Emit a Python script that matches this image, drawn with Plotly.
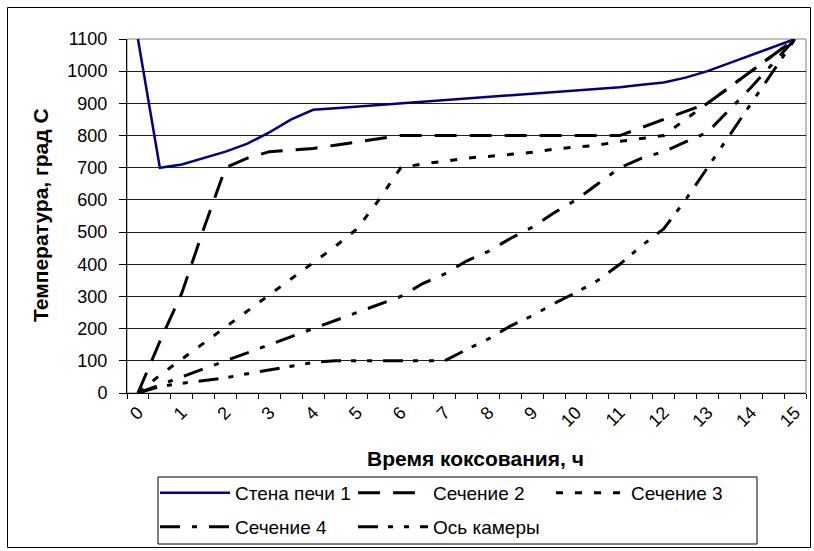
import plotly.graph_objects as go

# ---- data ----
hours = [0, 0.5, 1, 1.5, 2, 2.5, 3, 3.5, 4, 4.5, 5, 5.5, 6, 6.5, 7, 7.5,
         8, 8.5, 9, 9.5, 10, 10.5, 11, 11.5, 12, 12.5, 13, 13.5, 14, 14.5, 15]

wall_1 = [1100, 700, 710, 730, 750, 775, 810, 850, 880, 885, 890, 895, 900, 905, 910, 915,
          920, 925, 930, 935, 940, 945, 950, 958, 965, 980, 1000, 1025, 1050, 1075, 1100]
section_2 = [0, 160, 310, 510, 700, 730, 750, 755, 760, 770, 780, 790, 800, 800, 800, 800,
             800, 800, 800, 800, 800, 800, 800, 825, 850, 875, 900, 950, 1000, 1050, 1100]
section_3 = [0, 55, 105, 155, 205, 255, 305, 355, 405, 455, 510, 600, 700, 712, 720, 730,
             735, 742, 748, 758, 765, 770, 782, 792, 800, 850, 900, 950, 1000, 1050, 1100]
section_4 = [0, 25, 50, 75, 100, 125, 150, 175, 200, 225, 250, 275, 300, 340, 370, 410,
             440, 480, 515, 560, 600, 650, 700, 730, 750, 780, 810, 880, 950, 1025, 1100]
chamber_axis = [0, 20, 30, 38, 47, 60, 72, 83, 95, 100, 100, 100, 100, 100, 100, 135,
                168, 208, 240, 278, 312, 350, 400, 458, 510, 600, 700, 800, 900, 1000, 1100]

series_names = ["Стена печи 1", "Сечение 2", "Сечение 3", "Сечение 4", "Ось камеры"]
tick_hours = list(range(16))
tick_labels = [str(h) for h in tick_hours]
y_ticks = list(range(0, 1101, 100))

FONT = "Liberation Sans, Arial, sans-serif"

# ---- figure ----
fig = go.Figure()
styles = [
    dict(color="#000080", width=2.5, dash="solid"),
    dict(color="black", width=3, dash="22px,13px"),
    dict(color="black", width=3, dash="7px,12px"),
    dict(color="black", width=3, dash="20px,12px,5px,12px"),
    dict(color="black", width=3, dash="20px,10px,5px,11px,5px,11px"),
]
all_series = [wall_1, section_2, section_3, section_4, chamber_axis]
legends = ["legend", "legend", "legend", "legend2", "legend2"]
for name, vals, st, lg in zip(series_names, all_series, styles, legends):
    fig.add_trace(go.Scatter(x=hours, y=vals, mode="lines", name=name,
                             line=st, legend=lg))

L, R, T, B = 127, 8, 39, 158
W, H = 814, 551
pw, ph = W - L - R, H - T - B


def px(x):
    return (x - L) / pw


def py(y):
    return (H - B - y) / ph


legend_common = dict(orientation="h", xanchor="left", yanchor="top",
                     entrywidth=113, entrywidthmode="pixels", itemwidth=70,
                     font=dict(family=FONT, size=19, color="black"),
                     bgcolor="rgba(0,0,0,0)", borderwidth=0, traceorder="normal")

fig.update_layout(
    width=W, height=H,
    margin=dict(l=L, r=R, t=T, b=B, autoexpand=False),
    paper_bgcolor="white", plot_bgcolor="white",
    font=dict(family=FONT, size=18, color="black"),
    legend=dict(x=px(155), y=py(474), **legend_common),
    legend2=dict(x=px(155), y=py(508), **legend_common),
    xaxis=dict(
        range=[-0.25, 15.25], tickmode="array", tickvals=tick_hours, ticktext=tick_labels,
        tickangle=-45, ticks="outside", ticklen=1, tickcolor="rgba(0,0,0,0)",
        showgrid=False, zeroline=False, showline=True, linecolor="black", linewidth=1,
        tickfont=dict(family=FONT, size=18, color="black"),
        minor=dict(tickmode="linear", tick0=-0.25, dtick=0.5, ticks="outside",
                   ticklen=5, tickcolor="black", showgrid=False),
    ),
    yaxis=dict(
        range=[0, 1100], tickmode="array", tickvals=y_ticks,
        ticks="outside", ticklen=7, tickcolor="black", ticklabelstandoff=8,
        showgrid=True, gridcolor="#202020", gridwidth=1, zeroline=False,
        showline=True, linecolor="black", linewidth=1,
        tickfont=dict(family=FONT, size=18, color="black"),
    ),
    annotations=[
        dict(text="Температура, град С", xref="paper", yref="paper",
             x=px(40), y=py(215), textangle=-90, showarrow=False,
             xanchor="center", yanchor="middle",
             font=dict(family=FONT, size=21, color="black", weight="bold")),
        dict(text="Время коксования, ч", xref="paper", yref="paper",
             x=px(476), y=py(458), showarrow=False,
             xanchor="center", yanchor="middle",
             font=dict(family=FONT, size=21, color="black", weight="bold")),
    ],
    shapes=[
        # plot area border (gray)
        dict(type="rect", xref="paper", yref="paper", x0=0, x1=1, y0=0, y1=1,
             line=dict(color="#808080", width=1), layer="below"),
        # legend box
        dict(type="rect", xref="paper", yref="paper", x0=px(158), x1=px(757),
             y0=py(544), y1=py(477), line=dict(color="black", width=1)),
        # outer chart frame
        dict(type="rect", xref="paper", yref="paper", x0=px(7.5), x1=px(810.5),
             y0=py(547.5), y1=py(7.5), line=dict(color="black", width=1)),
    ],
    showlegend=True,
)

fig.write_html("out.html", config={"displayModeBar": False},
               post_script="document.body.style.margin='0px';")
